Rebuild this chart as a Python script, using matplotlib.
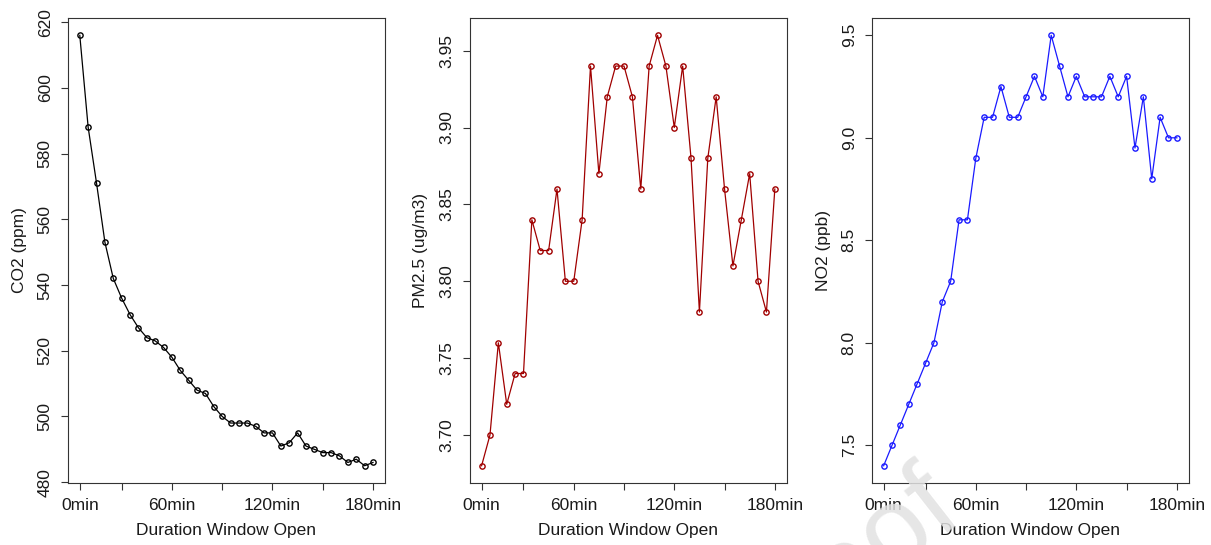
import numpy as np
import matplotlib
matplotlib.use('Agg')
import matplotlib.pyplot as plt

plt.rcParams['font.family'] = ['Liberation Sans', 'DejaVu Sans']

# ~~~~~~~~~~~~ data (readings every sample, 36 samples over 3 hours) ~~~~~~~~~~~~
idx = np.arange(1, 37)
tick_pos = [1, 6, 12, 18, 24, 30, 36]
tick_lab = ['0min', '30min', '60min', '90min', '120min', '150min', '180min']

co2 = [616, 588, 571, 553, 542, 536, 531, 527, 524, 523, 521, 518,
       514, 511, 508, 507, 503, 500, 498, 498, 498, 497, 495, 495,
       491, 492, 495, 491, 490, 489, 489, 488, 486, 487, 485, 486]
pm25 = [3.68, 3.70, 3.76, 3.72, 3.74, 3.74, 3.84, 3.82, 3.82, 3.86, 3.80, 3.80,
        3.84, 3.94, 3.87, 3.92, 3.94, 3.94, 3.92, 3.86, 3.94, 3.96, 3.94, 3.90,
        3.94, 3.88, 3.78, 3.88, 3.92, 3.86, 3.81, 3.84, 3.87, 3.80, 3.78, 3.86]
no2 = [7.4, 7.5, 7.6, 7.7, 7.8, 7.9, 8.0, 8.2, 8.3, 8.6, 8.6, 8.9,
       9.1, 9.1, 9.25, 9.1, 9.1, 9.2, 9.3, 9.2, 9.5, 9.35, 9.2, 9.3,
       9.2, 9.2, 9.2, 9.3, 9.2, 9.3, 8.95, 9.2, 8.8, 9.1, 9.0, 9.0]

txt = '#1a1a1a'
fs = 12.5

fig = plt.figure(figsize=(12.11, 5.45), dpi=100)
lefts = [0.0562, 0.388, 0.720]
panels = [
    (co2, 'black', 'CO2 (ppm)', np.arange(480, 621, 20), '%d'),
    (pm25, '#a00000', 'PM2.5 (ug/m3)', np.arange(3.70, 3.951, 0.05), '%.2f'),
    (no2, '#1a1aff', 'NO2 (ppb)', np.arange(7.5, 9.51, 0.5), '%.1f'),
]

for left, (vals, col, lab, yt, fmt) in zip(lefts, panels):
    ax = fig.add_axes([left, 0.1138, 0.2615, 0.853])
    ax.plot(idx, vals, '-', color=col, lw=0.9, marker='o', ms=3.8,
            mfc='none', mec=col, mew=1.0)
    ax.margins(x=0.04, y=0.04)
    ax.set_xticks(tick_pos)
    # R drops the labels that would overlap, keep only every other one
    ax.set_xticklabels([t if i % 2 == 0 else '' for i, t in enumerate(tick_lab)])
    ax.set_yticks(yt)
    ax.set_yticklabels([fmt % v for v in yt], rotation=90, va='center')
    ax.tick_params(length=5, width=0.8, color='#333333', labelsize=fs,
                   labelcolor=txt)
    ax.tick_params(axis='x', pad=6)
    ax.tick_params(axis='y', pad=6)
    for s in ax.spines.values():
        s.set_color('#333333')
        s.set_linewidth(0.8)
    ax.set_xlabel('Duration Window Open', fontsize=fs, color=txt, labelpad=7)
    ax.set_ylabel(lab, fontsize=fs, color=txt, labelpad=8)

# faint journal watermark
fig.text(0.797, 0.046, 'Journal Pre-proof', fontsize=82, color='#e2e2e2',
         alpha=0.85, rotation=38, ha='right', va='baseline',
         rotation_mode='anchor', zorder=10)

plt.savefig('out.png', dpi=100)
plt.close()
